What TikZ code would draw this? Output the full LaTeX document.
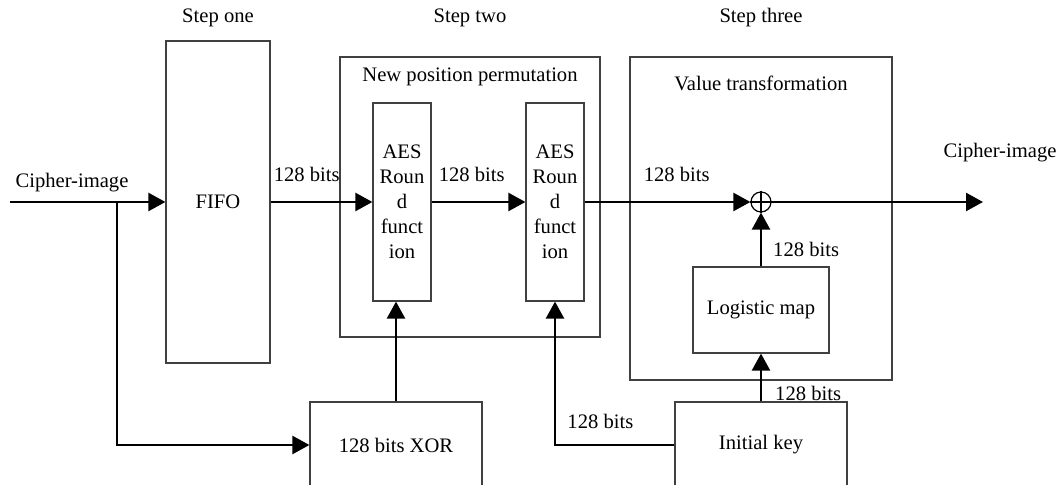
\documentclass[tikz,border=0pt]{standalone}
\usepackage{fontspec}
\setmainfont{Liberation Serif}
\usetikzlibrary{arrows.meta}
\tikzset{
  blk/.style={draw=black!75, line width=0.6pt, inner sep=0pt, align=center},
  sig/.style={line width=1.2pt, -{Triangle[length=8.5pt,width=9pt]}},
  lbl/.style={inner sep=0pt}
}
\begin{document}
\begin{tikzpicture}[x=0.5pt,y=-0.5pt,font=\fontsize{10.3}{12.5}\selectfont]
	\path[clip, use as bounding box] (0,0) rectangle (1061,485);
	\node[lbl] (stepA) at (218,18) {Step one};
	\node[lbl] (stepB) at (470,18) {Step two};
	\node[lbl] (stepC) at (761,18) {Step three};
	\node[blk, minimum width=52pt, minimum height=161pt] (fifo) at (218,202) {FIFO};
	\node[blk, minimum width=130pt, minimum height=140pt] (perm) at (470,197) {};
	\node[lbl] (permtitle) at (470,77) {New position permutation};
	\node[blk, minimum width=29pt, minimum height=99pt] (aesA) at (402,202) {AES\\Roun\\d\\funct\\ion};
	\node[blk, minimum width=29pt, minimum height=99pt] (aesB) at (555,202) {AES\\Roun\\d\\funct\\ion};
	\node[blk, minimum width=131pt, minimum height=161.5pt] (val) at (761,218.5) {};
	\node[lbl] (valtitle) at (761,83) {Value transformation};
	\node[blk, minimum width=68pt, minimum height=43pt] (logi) at (761,310) {Logistic map};
	\node[circle, draw, line width=0.6pt, minimum size=10pt, inner sep=0pt] (xo) at (761,202) {};
	\draw[line width=0.6pt] (xo.north) -- (xo.south) (xo.west) -- (xo.east);
	\node[blk, minimum width=86pt, minimum height=43pt] (xorbox) at (396,445) {128 bits XOR};
	\node[blk, minimum width=86pt, minimum height=43pt] (key) at (761,445) {Initial key};
	\node[lbl] (inlbl) at (72,183) {Cipher-image};
	\node[lbl] (outlbl) at (1000,153) {Cipher-image};
	\coordinate (in) at (10,202);
	\coordinate (br) at (117,202);
	\coordinate (out) at (983,202);
	\draw[sig] (in) -- (fifo);
	\draw[sig] (br) |- (xorbox);
	\draw[sig] (fifo) -- node[lbl, anchor=south west, pos=0, xshift=1pt, yshift=9.5pt] {128 bits} (aesA);
	\draw[sig] (aesA) -- node[lbl, anchor=south west, pos=0, xshift=3pt, yshift=9.5pt] {128 bits} (aesB);
	\draw[sig] (aesB) -- node[lbl, anchor=south west, pos=0, xshift=29pt, yshift=9.5pt] {128 bits} (xo);
	\draw[sig] (xo) -- (out);
	\draw[sig] (logi) -- node[lbl, anchor=west, pos=0.32, xshift=5.5pt] {128 bits} (xo);
	\draw[sig] (key) -- node[lbl, anchor=west, pos=0.16, xshift=6.5pt] {128 bits} (logi);
	\draw[sig] (key) -| node[lbl, anchor=south, pos=0.31, yshift=7.5pt] {128 bits} (aesB);
	\draw[sig] (xorbox) -- (xorbox.north |- aesA.south);
\end{tikzpicture}
\end{document}
